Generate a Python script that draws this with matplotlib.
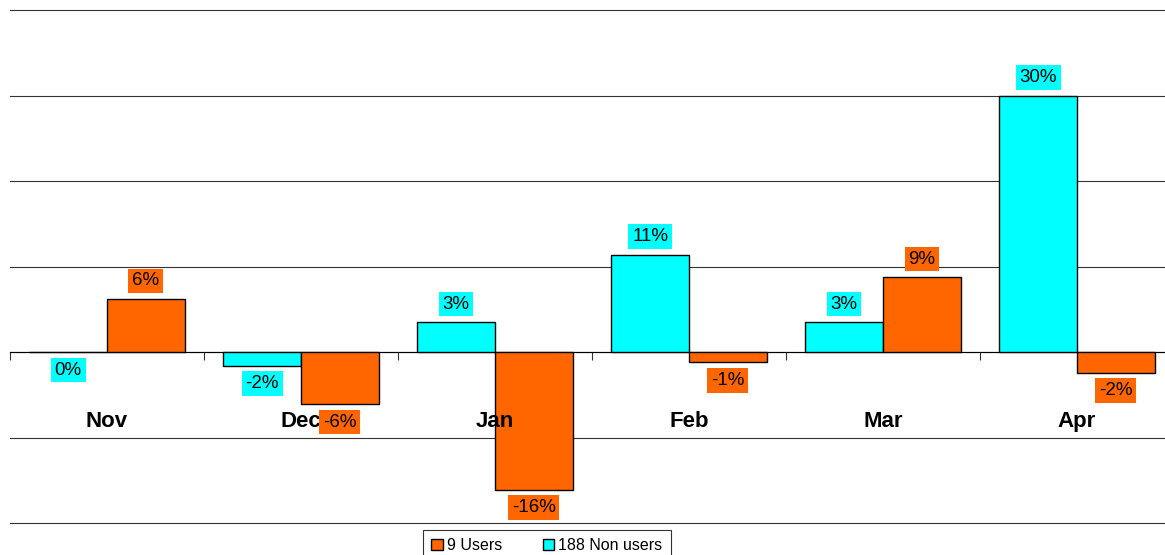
import matplotlib.pyplot as plt
import numpy as np

months = ["Nov", "Dec", "Jan", "Feb", "Mar", "Apr"]
non_users = [0.0, -1.6, 3.5, 11.4, 3.5, 30.0]
users = [6.2, -6.1, -16.1, -1.2, 8.75, -2.4]
non_users_labels = ["0%", "-2%", "3%", "11%", "3%", "30%"]
users_labels = ["6%", "-6%", "-16%", "-1%", "9%", "-2%"]

orange = "#FF6600"
cyan = "#00FFFF"

plt.rcParams["font.family"] = ["Liberation Sans", "DejaVu Sans"]

fig = plt.figure(figsize=(11.65, 5.55), dpi=100)
ax = fig.add_axes([10 / 1165, 1 - 523 / 555, 1164 / 1165, 513 / 555])

x = np.arange(len(months))
w = 0.4
b1 = ax.bar(x - w / 2, non_users, w, color=cyan, edgecolor="black", linewidth=1, label="188 Non users", zorder=3)
b2 = ax.bar(x + w / 2, users, w, color=orange, edgecolor="black", linewidth=1, label="9 Users", zorder=3)

def add_labels(bars, labels, color):
    for rect, lab in zip(bars, labels):
        h = rect.get_height()
        off = 13 if h > 0 else -13
        ax.annotate(lab, (rect.get_x() + rect.get_width() / 2, h),
                    xytext=(0, off), textcoords="offset points",
                    ha="center", va="center", fontsize=13.5, zorder=5,
                    bbox=dict(boxstyle="square,pad=0.2", fc=color, ec="none"))

add_labels(b1, non_users_labels, cyan)
add_labels(b2, users_labels, orange)

for i, m in enumerate(months):
    ax.text(i, -8.1, m, ha="center", va="center", fontsize=16, fontweight="bold", zorder=4)

ax.set_xlim(-0.5, len(months) - 0.5)
ax.set_ylim(-20, 40)
for g in np.arange(-20, 41, 10):
    ax.axhline(g, color="#333333", linewidth=0.8, zorder=0, clip_on=False)
ax.set_yticks([])
for s in ["top", "left", "right"]:
    ax.spines[s].set_visible(False)
ax.spines["bottom"].set_position(("data", 0))
ax.spines["bottom"].set_zorder(2)
ax.set_xticks(np.arange(-0.5, len(months), 1))
ax.tick_params(axis="x", direction="out", length=6, labelbottom=False, color="#333333")

handles = [b2, b1]
leg = fig.legend(handles, ["9 Users", "188 Non users"], loc="upper center",
                 bbox_to_anchor=(547 / 1165, 1 - 530 / 555), ncol=2, fontsize=11.5,
                 frameon=True, fancybox=False, edgecolor="black", handlelength=0.7,
                 handleheight=0.7, handletextpad=0.3, columnspacing=2.5, borderpad=0.5,
                 borderaxespad=0)
leg.get_frame().set_linewidth(0.8)

fig.savefig("out.png", dpi=100)
